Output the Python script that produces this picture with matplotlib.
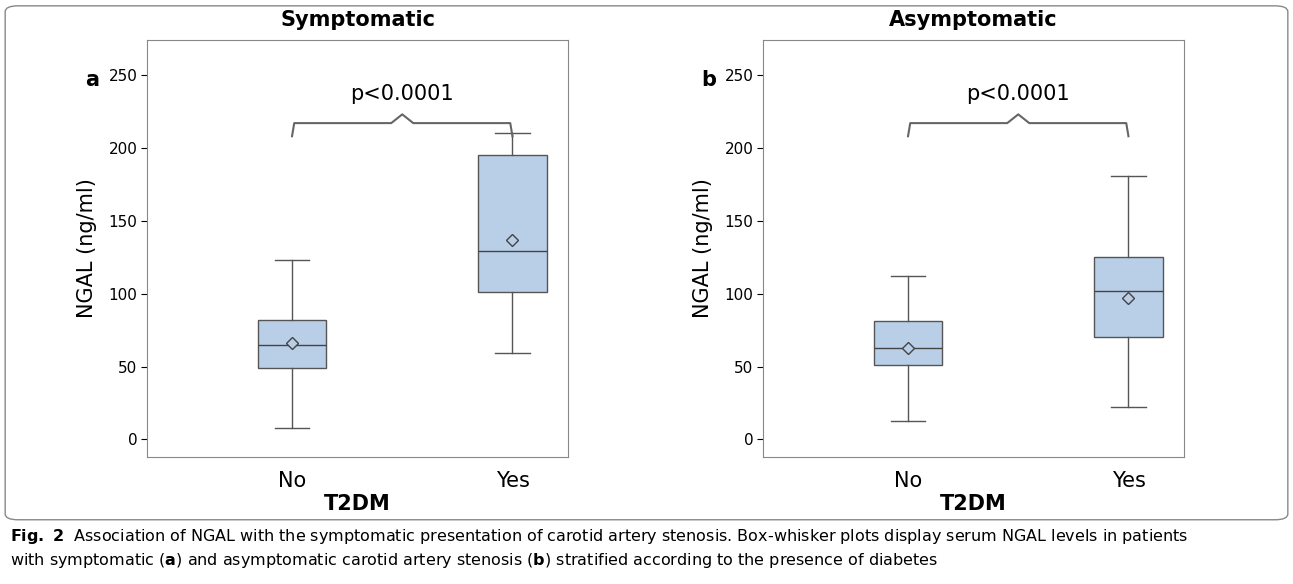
import matplotlib.pyplot as plt
from matplotlib.patches import FancyBboxPatch
import numpy as np

groups = ["No", "Yes"]
titles = ["Symptomatic", "Asymptomatic"]
panel_letters = ["a", "b"]
# low whisker, Q1, median, Q3, high whisker, mean
stats_sym = [[8, 49, 65, 82, 123, 66], [59, 101, 129, 195, 210, 137]]
stats_asym = [[13, 51, 63, 81, 112, 63], [22, 70, 102, 125, 181, 97]]
pvals = ["p<0.0001", "p<0.0001"]
bracket_y = [208, 208]

fig = plt.figure(figsize=(12.93, 5.84), dpi=100)
fig.patches.append(FancyBboxPatch((0.004, 0.11), 0.992, 0.88, boxstyle="round,pad=0,rounding_size=0.01",
                                  transform=fig.transFigure, fill=False, edgecolor="#888888", lw=1))

lefts = [147 / 1293, 763 / 1293]
for i, stats in enumerate([stats_sym, stats_asym]):
    ax = fig.add_axes([lefts[i], 0.2175, 0.3256, 0.714])
    bxp = []
    for g, s in zip(groups, stats):
        bxp.append(dict(label=g, whislo=s[0], q1=s[1], med=s[2], q3=s[3], whishi=s[4], mean=s[5], fliers=[]))
    ax.bxp(bxp, positions=[1, 2], widths=0.31, showmeans=True, patch_artist=True,
           boxprops=dict(facecolor="#b9cfe8", edgecolor="#555555", lw=1),
           medianprops=dict(color="#444444", lw=1),
           whiskerprops=dict(color="#555555", lw=1),
           capprops=dict(color="#555555", lw=1),
           meanprops=dict(marker="D", markerfacecolor="#b9cfe8", markeredgecolor="#444444", markersize=6))
    ax.set_xlim(0.342, 2.252)
    ax.set_ylim(-12, 274)
    ax.set_yticks([0, 50, 100, 150, 200, 250])
    ax.tick_params(axis="y", labelsize=11, length=4, pad=3)
    ax.tick_params(axis="x", labelsize=15, length=0, pad=10)
    for sp in ax.spines.values():
        sp.set_color("#888888")
    ax.set_ylabel("NGAL (ng/ml)", fontsize=15, labelpad=8)
    ax.set_xlabel("T2DM", fontsize=15, fontweight="bold", labelpad=2)
    ax.set_title(titles[i], fontsize=15, fontweight="bold", pad=10)
    # bracket
    y0 = bracket_y[i]
    xs = [1, 1.01, 1.45, 1.5, 1.55, 1.99, 2]
    ys = [y0, y0 + 9, y0 + 9, y0 + 15, y0 + 9, y0 + 9, y0]
    ax.plot(xs, ys, color="#666666", lw=1.5)
    ax.text(1.5, y0 + 22, pvals[i], ha="center", va="bottom", fontsize=15)
    fig.text(lefts[i] - 62 / 1293, 1 - 80 / 584, panel_letters[i], fontsize=15, fontweight="bold", va="center")

fig.text(0.008, 1 - 537 / 584, r"$\bf{Fig.\ 2}$  Association of NGAL with the symptomatic presentation of carotid artery stenosis. Box-whisker plots display serum NGAL levels in patients",
         fontsize=11.5, va="center")
fig.text(0.008, 1 - 560 / 584, r"with symptomatic ($\bf{a}$) and asymptomatic carotid artery stenosis ($\bf{b}$) stratified according to the presence of diabetes",
         fontsize=11.5, va="center")

fig.savefig("out.png", dpi=100)
